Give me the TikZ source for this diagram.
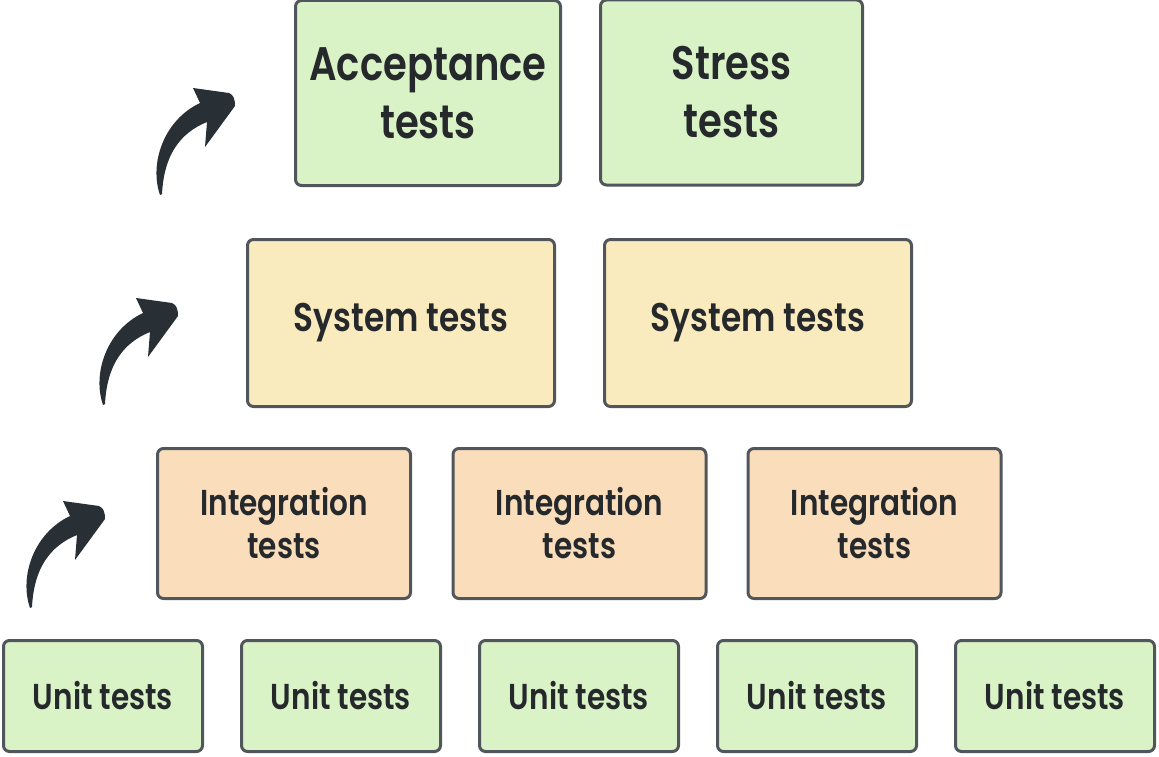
\documentclass[tikz,border=0pt]{standalone}
\usepackage{fontspec}
\setmainfont{Poppins}[BoldFont={Poppins SemiBold}, FakeStretch=0.82]
\definecolor{boxline}{HTML}{50565B}
\definecolor{txt}{HTML}{26292C}
\definecolor{arrowc}{HTML}{293035}
\definecolor{gfill}{HTML}{D9F2C6}
\definecolor{yfill}{HTML}{FAEBBE}
\definecolor{ofill}{HTML}{FADEBC}
\begin{document}
\begin{tikzpicture}[x=1pt,y=-1pt,
  box/.style={draw=boxline, line width=3pt, rounded corners=6pt, align=center,
    inner sep=0pt, text=txt, font=\bfseries},
  topbox/.style={box, fill=gfill, minimum width=265pt, minimum height=185pt,
    font=\bfseries\fontsize{47}{58}\selectfont},
  sysbox/.style={box, fill=yfill, minimum width=307pt, minimum height=167pt,
    font=\bfseries\fontsize{40}{46}\selectfont},
  intbox/.style={box, fill=ofill, minimum width=253pt, minimum height=150pt,
    font=\bfseries\fontsize{36}{43}\selectfont},
  unitbox/.style={box, fill=gfill, minimum width=199pt, minimum height=111pt,
    font=\bfseries\fontsize{36}{44}\selectfont},
  bigarrow/.style={fill=arrowc, draw=none}
]
\useasboundingbox (0,0) rectangle (1159,757);

% top row
\node[topbox] (acc) at (428,93) {Acceptance\\tests};
\node[topbox, minimum width=262pt] (stress) at (731.5,92.5) {Stress\\tests};
% system row
\node[sysbox] (sys1) at (401,323) {System tests};
\node[sysbox] (sys2) at (758,323) {System tests};
% integration row
\node[intbox] (int1) at (284,523.5) {Integration\\tests};
\node[intbox] (int2) at (579.5,523.5) {Integration\\tests};
\node[intbox] (int3) at (874.5,523.5) {Integration\\tests};
% unit row
\node[unitbox] (u1) at (103,696) {Unit tests};
\node[unitbox] (u2) at (341,696) {Unit tests};
\node[unitbox] (u3) at (579,696) {Unit tests};
\node[unitbox] (u4) at (817,696) {Unit tests};
\node[unitbox] (u5) at (1055,696) {Unit tests};

% curved arrows
\foreach \tx/\ty in {30/608, 103/405, 160/195}{
  \fill[bigarrow, shift={(\tx,\ty)}]
    (0,0) .. controls (-11,-32) and (4,-75) .. (40,-92)
    -- (33,-107) -- (69,-102) .. controls (74,-100) and (75,-95) .. (75,-89)
    -- (45,-48) -- (47,-73) .. controls (20,-62) and (4,-40) .. (2,-1) -- cycle;
}
\end{tikzpicture}
\end{document}
